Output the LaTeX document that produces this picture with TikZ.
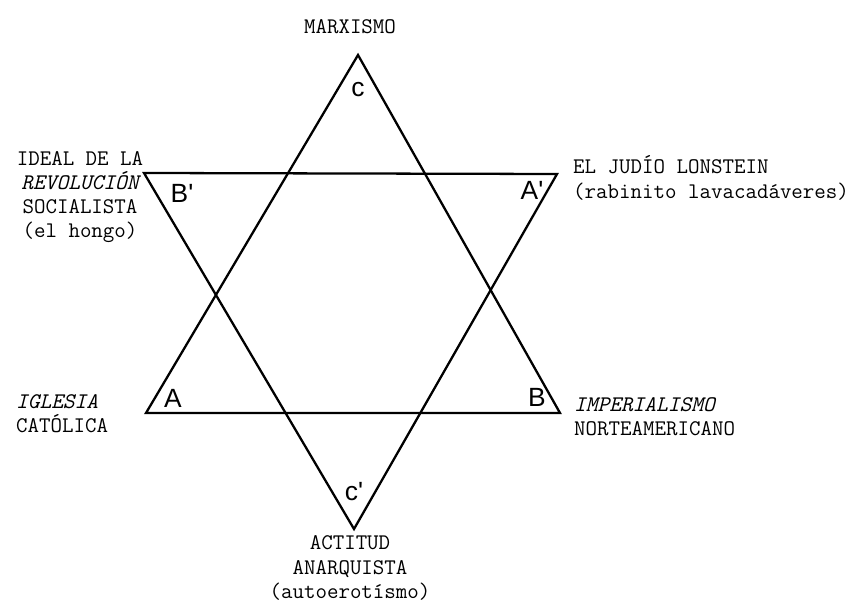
\documentclass[tikz,border=0pt]{standalone}
\usepackage{fontspec}
\newfontfamily\handfont{Liberation Sans}
\begin{document}
\begin{tikzpicture}[x=0.02cm, y=-0.02cm, line width=1.3pt,
    every node/.style={inner sep=0pt},
    tag/.style={font=\ttfamily\fontsize{12.7}{13.8}\selectfont, align=center},
    corner/.style={font=\handfont\fontsize{15}{15}\selectfont}]
    \useasboundingbox (0,0) rectangle (857,607);
    % 1. vértices de los dos triángulos
    \coordinate (C) at (358,55);
    \coordinate (A) at (146,413);
    \coordinate (B) at (560,413);
    \coordinate (Bp) at (144,173);
    \coordinate (Ap) at (557,174);
    \coordinate (Cp) at (354,529);

    % 2. triángulos
    \draw (C) -- (B) -- (A) -- cycle;
    \draw (Bp) -- (Ap) -- (Cp) -- cycle;

    % 3. letras de las puntas
    \node[corner] (lc) at (358,90) {c};
    \node[corner] (lbp) at (182,193) {B'};
    \node[corner] (lap) at (532,190) {A'};
    \node[corner] (la) at (173,398) {A};
    \node[corner] (lb) at (537,397) {B};
    \node[corner] (lcp) at (354,492) {c'};

    % 4. rótulos
    \node[tag] (mx) at (350,27) {MARXISMO};
    \node[tag] (rev) at (80,197) {IDEAL DE LA\\{\itshape REVOLUCIÓN}\\SOCIALISTA\\ (el hongo)};
    \node[tag, anchor=west, align=left] (jud) at (572,178) {EL JUDÍO LONSTEIN\\(rabinito lavacadáveres)};
    \node[tag, anchor=west, align=left] (igl) at (15,414) {{\itshape IGLESIA}\\CATÓLICA};
    \node[tag, anchor=west, align=left] (imp) at (573,417) {{\itshape IMPERIALISMO}\\NORTEAMERICANO};
    \node[tag] (act) at (350,568) {ACTITUD\\ANARQUISTA\\(autoerotísmo)};
\end{tikzpicture}
\end{document}
